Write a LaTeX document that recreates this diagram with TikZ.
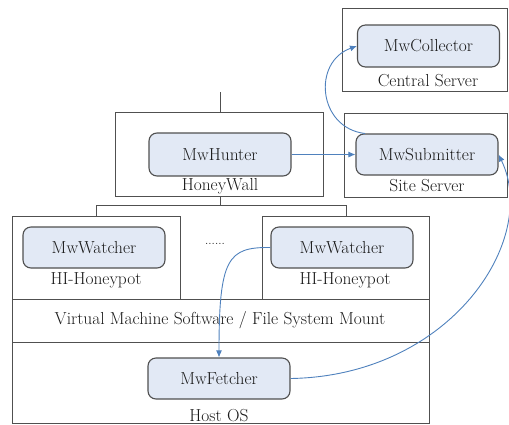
\documentclass[tikz,border=0pt]{standalone}
\usetikzlibrary{arrows.meta}
\definecolor{boxline}{HTML}{505050}
\definecolor{nodefill}{HTML}{E2E9F5}
\definecolor{arrowblue}{HTML}{4F81BD}
\begin{document}
\begin{tikzpicture}[x=1pt,y=-1pt,
  comp/.style={draw=boxline,line width=1.1pt,fill=nodefill,rounded corners=8pt,minimum width=142pt,minimum height=41pt,inner sep=0pt,font=\rmfamily\fontsize{17.4}{20}\selectfont,text=black!90},
  frame/.style={draw=boxline,line width=0.9pt},
  lbl/.style={font=\rmfamily\fontsize{17.4}{20}\selectfont,text=black!90,inner sep=0pt},
  link/.style={draw=boxline,line width=0.9pt},
  flow/.style={draw=arrowblue,line width=0.9pt,-{Latex[length=7pt,width=6pt]}}]
\useasboundingbox (0,0) rectangle (509,424);
% frames
\draw[frame] (342,8) rectangle (507,91);
\draw[frame] (344,113) rectangle (507,197);
\draw[frame] (115,112) rectangle (323,196);
\draw[frame] (12,216) rectangle (180,299);
\draw[frame] (262,216) rectangle (429,299);
\draw[frame] (12,299) rectangle (429,342);
\draw[frame] (12,342) rectangle (429,423);
% components
\node[comp,minimum height=42pt] (col) at (428.5,46) {MwCollector};
\node[comp] (sub) at (427,154.5) {MwSubmitter};
\node[comp,minimum height=43pt] (hunt) at (220,154.5) {MwHunter};
\node[comp] (watchL) at (94,247.5) {MwWatcher};
\node[comp] (watchR) at (342,247.5) {MwWatcher};
\node[comp] (fetch) at (219,378.5) {MwFetcher};
% labels
\node[lbl] (lcs) at (428,81) {Central Server};
\node[lbl] (lss) at (427,186) {Site Server};
\node[lbl] (lhw) at (220,186) {HoneyWall};
\node[lbl] (lhp1) at (96,280) {HI-Honeypot};
\node[lbl] (lhp2) at (345,280) {HI-Honeypot};
\node[lbl] (lvm) at (220,320) {Virtual Machine Software / File System Mount};
\node[lbl] (los) at (219,416) {Host OS};
\node[lbl,font=\rmfamily\fontsize{12}{14}\selectfont] (dots) at (215,244) {......};
% network links
\coordinate (top) at (220,92);
\coordinate (hwtop) at (220,112);
\coordinate (hwbot) at (220,196);
\coordinate (bus) at (220,205);
\coordinate (busL) at (96,205);
\coordinate (busR) at (346,205);
\coordinate (hpL) at (96,216);
\coordinate (hpR) at (346,216);
\draw[link] (top) -- (hwtop);
\draw[link] (hwbot) -- (bus);
\draw[link] (hpL) -- (busL) -- (busR) -- (hpR);
% flows
\draw[flow] (365,133.5) .. controls (318,128) and (312,62) .. (col.west);
\draw[flow] (hunt.east) -- (sub.west);
\draw[flow] (watchR.west) .. controls (228,247) and (219,258) .. (fetch.north);
\draw[flow] (fetch.east) .. controls (450,376) and (540,240) .. (sub.east);
\end{tikzpicture}
\end{document}
